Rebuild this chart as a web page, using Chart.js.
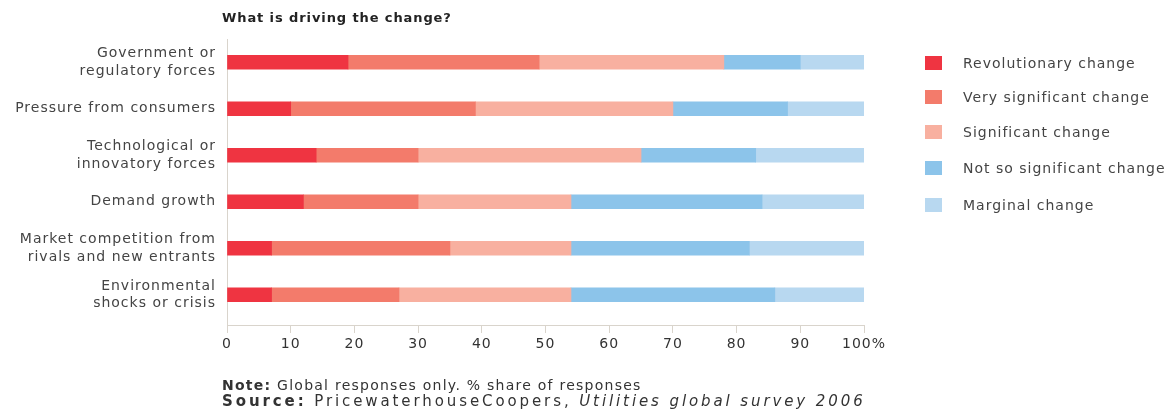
<!DOCTYPE html>
<html>
<head>
<meta charset="utf-8">
<script src="https://cdn.jsdelivr.net/npm/chart.js@4.4.0/dist/chart.umd.min.js"></script>
<style>
    body { margin: 0; background: #fff; }
    #wrap { position: relative; width: 1176px; height: 411px; font-family: "DejaVu Sans", sans-serif; color: #444; }
    #title { position: absolute; left: 222px; top: 10px; font-size: 13px; font-weight: bold; letter-spacing: 0.9px; color: #222; }
    #legend { position: absolute; left: 925px; top: 0; }
    .item { position: absolute; left: 0; width: 260px; height: 16px; font-size: 14px; letter-spacing: 1px; line-height: 16px; white-space: nowrap; }
    .box { position: absolute; left: 0; top: 1px; width: 17px; height: 14px; }
    .item span { position: absolute; left: 38px; top: 0; }
    #notes { position: absolute; left: 222px; top: 377px; width: 641px; overflow: hidden; white-space: nowrap; font-size: 14px; line-height: 16px; letter-spacing: 1.25px; color: #333; }
    #notes .src { font-size: 15px; letter-spacing: 2.9px; }
</style>
</head>
<body>
<div id="wrap">
    <canvas id="bar-chart" width="1176" height="411"></canvas>
    <div id="title">What is driving the change?</div>
    <div id="legend"></div>
    <div id="notes">
        <div><b>Note:</b> Global responses only. % share of responses</div>
        <div class="src"><b>Source:</b> PricewaterhouseCoopers, <i>Utilities global survey 2006</i></div>
    </div>
</div>
<script>
// categories, top to bottom
let drivers = [
    ['Government or', 'regulatory forces'],
    'Pressure from consumers',
    ['Technological or', 'innovatory forces'],
    'Demand growth',
    ['Market competition from', 'rivals and new entrants'],
    ['Environmental', 'shocks or crisis']
]

let seriesNames = ['Revolutionary change', 'Very significant change', 'Significant change', 'Not so significant change', 'Marginal change']
let seriesColors = ['#ef3441', '#f37b6b', '#f8b0a0', '#8cc4ea', '#b8d8f0']

// % share of responses
let revolutionary = [19, 10, 14, 12, 7, 7]
let verySignificant = [30, 29, 16, 18, 28, 20]
let significant = [29, 31, 35, 24, 19, 27]
let notSoSignificant = [12, 18, 18, 30, 28, 32]
let marginal = [10, 12, 17, 16, 18, 14]

let xTicks = [0, 10, 20, 30, 40, 50, 60, 70, 80, 90, 100]

let allSeries = [revolutionary, verySignificant, significant, notSoSignificant, marginal]

// legend on the right
let legendDiv = document.querySelector('#legend')
let legendTops = [55, 89, 124, 160, 197]
seriesNames.forEach((name, i) => {
    let item = document.createElement('div')
    item.className = 'item'
    item.style.top = legendTops[i] + 'px'
    item.innerHTML = '<div class="box" style="background:' + seriesColors[i] + '"></div><span>' + name + '</span>'
    legendDiv.appendChild(item)
})

// wider lettering like the original
const spacing = {
    id: 'spacing',
    beforeUpdate(chart) { chart.ctx.letterSpacing = '1px' },
    beforeDraw(chart) { chart.ctx.letterSpacing = '1px' }
}

let axisColor = '#d9d4cc'

new Chart(document.querySelector('#bar-chart').getContext('2d'), {
    type: 'bar',
    data: {
        datasets: allSeries.map((values, i) => ({
            label: seriesNames[i],
            backgroundColor: seriesColors[i],
            borderWidth: 0,
            barThickness: 14,
            stack: 'all',
            data: values.map((v, j) => ({ x: v, y: j }))
        }))
    },
    options: {
        indexAxis: 'y',
        responsive: false,
        animation: false,
        layout: { padding: { top: 39, right: 312, left: 0, bottom: 0 } },
        plugins: { legend: { display: false }, tooltip: { enabled: false } },
        scales: {
            x: {
                type: 'linear',
                stacked: true,
                min: 0,
                max: 100,
                afterFit: scale => { scale.height = 86 },
                afterBuildTicks: scale => { scale.ticks = xTicks.map(v => ({ value: v })) },
                grid: { drawOnChartArea: false, drawTicks: true, tickLength: 8, color: axisColor },
                border: { display: true, color: axisColor },
                ticks: {
                    color: '#333',
                    padding: 3,
                    maxRotation: 0,
                    autoSkip: false,
                    font: { family: 'DejaVu Sans', size: 14 },
                    callback: v => v === 100 ? '100%' : v
                }
            },
            y: {
                type: 'linear',
                reverse: true,
                offset: false,
                min: -0.5,
                max: 5.65,
                afterFit: scale => { scale.width = 227 },
                afterBuildTicks: scale => { scale.ticks = drivers.map((d, i) => ({ value: i })) },
                grid: { offset: false, drawOnChartArea: false, drawTicks: false },
                border: { display: true, color: axisColor },
                ticks: {
                    color: '#444',
                    padding: 11,
                    autoSkip: false,
                    font: { family: 'DejaVu Sans', size: 14, lineHeight: 1.25 },
                    callback: v => drivers[v]
                }
            }
        }
    },
    plugins: [spacing]
})
</script>
</body>
</html>
